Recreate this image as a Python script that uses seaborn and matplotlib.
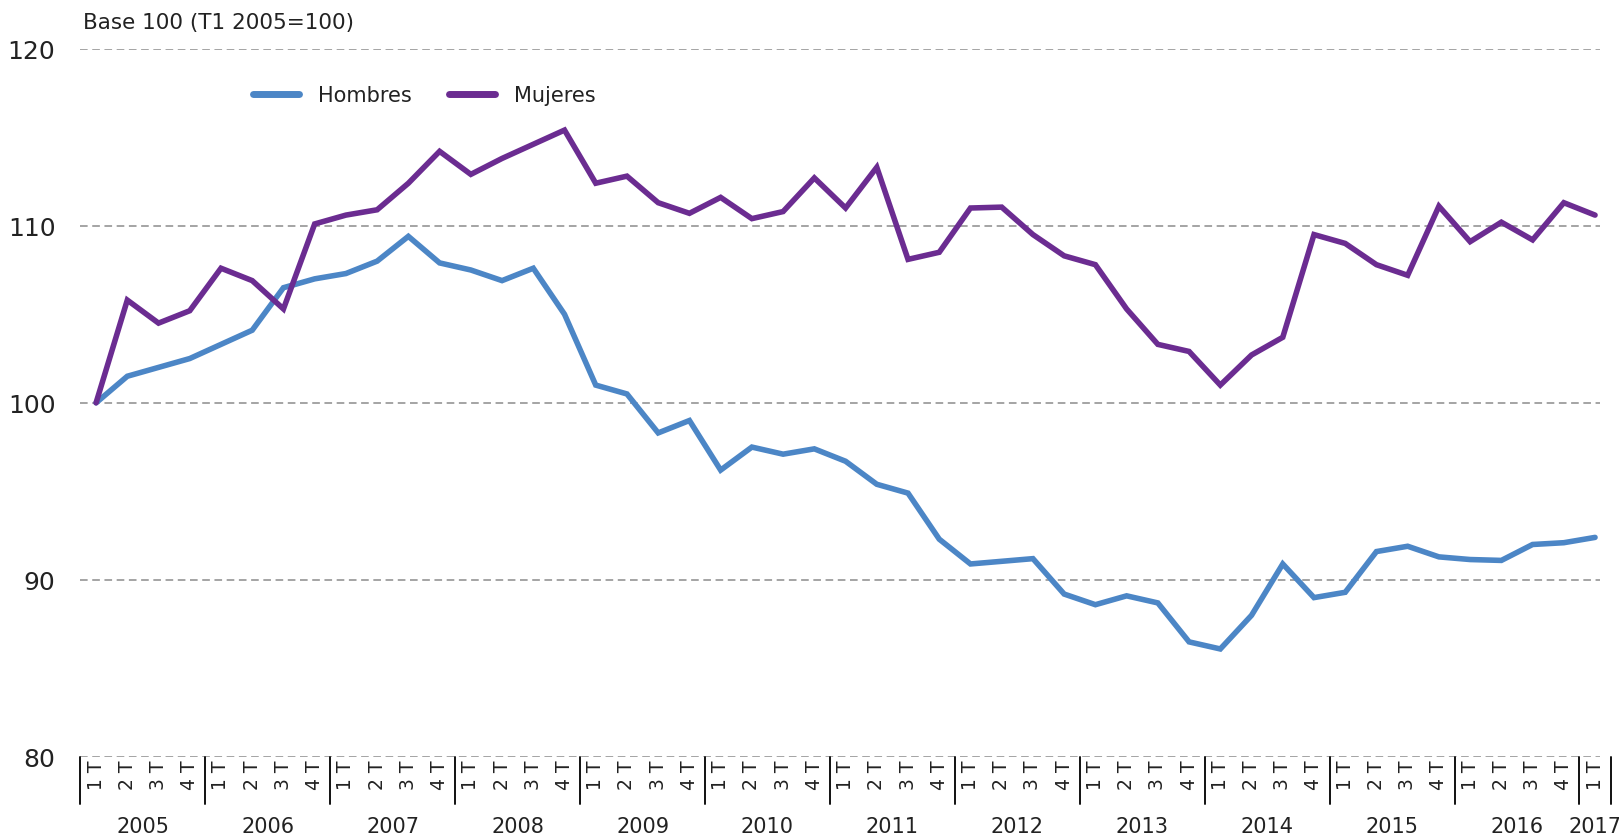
import matplotlib
matplotlib.use("Agg")
import matplotlib.pyplot as plt
import matplotlib.transforms as mtransforms
import numpy as np
import pandas as pd
import seaborn as sns

# ---------------- data ----------------
years = ["2005", "2006", "2007", "2008", "2009", "2010", "2011",
         "2012", "2013", "2014", "2015", "2016", "2017"]
quarters_per_year = ["1 T", "2 T", "3 T", "4 T"]
series_names = ["Hombres", "Mujeres"]

hombres = [100.0, 101.5, 102.0, 102.5, 103.3, 104.1, 106.5, 107.0,
           107.3, 108.0, 109.4, 107.9, 107.5, 106.9, 107.6, 105.0,
           101.0, 100.5, 98.3, 99.0, 96.2, 97.5, 97.1, 97.4,
           96.7, 95.4, 94.9, 92.3, 90.9, 91.05, 91.2, 89.2,
           88.6, 89.1, 88.7, 86.5, 86.1, 88.0, 90.9, 89.0,
           89.3, 91.6, 91.9, 91.3, 91.15, 91.1, 92.0, 92.1,
           92.4]
mujeres = [100.0, 105.8, 104.5, 105.2, 107.6, 106.9, 105.3, 110.1,
           110.6, 110.9, 112.4, 114.2, 112.9, 113.8, 114.6, 115.4,
           112.4, 112.8, 111.3, 110.7, 111.6, 110.4, 110.8, 112.7,
           111.0, 113.3, 108.1, 108.5, 111.0, 111.05, 109.5, 108.3,
           107.8, 105.3, 103.3, 102.9, 101.0, 102.7, 103.7, 109.5,
           109.0, 107.8, 107.2, 111.1, 109.1, 110.2, 109.2, 111.3,
           110.6]
yticks = [80, 90, 100, 110, 120]

# ---------------- build frame ----------------
n = len(hombres)
tick_labels = [quarters_per_year[i % 4] for i in range(n)]
df = pd.DataFrame({
    "t": list(range(n)) * 2,
    "valor": hombres + mujeres,
    "serie": [series_names[0]] * n + [series_names[1]] * n,
})

sns.set_theme(style="white")
plt.rcParams["font.family"] = ["DejaVu Sans"]
text_color = "#222222"

fig = plt.figure(figsize=(16.19, 8.37), dpi=100)
ax = fig.add_axes([0.0497, 0.0944, 0.9384, 0.8463])

palette = {"Hombres": "#4C86C6", "Mujeres": "#6B2C91"}
sns.lineplot(data=df, x="t", y="valor", hue="serie", palette=palette,
             linewidth=4.0, ax=ax, legend=True)
for line in ax.get_lines():
    line.set_solid_capstyle("round")
    line.set_solid_joinstyle("miter")

# axes limits & grid
ax.set_xlim(-0.5, 48.15)
ax.set_ylim(80, 120)
ax.set_yticks(yticks)
ax.set_yticklabels([str(v) for v in yticks], fontsize=18, color=text_color)
for v in yticks:
    ax.axhline(v, color="#8c8c8c", linestyle=(0, (5, 3)), linewidth=1.1, zorder=0)
for s in ax.spines.values():
    s.set_visible(False)
ax.tick_params(axis="y", length=0, pad=18)
ax.set_xlabel("")
ax.set_ylabel("")

# quarter ticks
ax.set_xticks(list(range(n)))
ax.set_xticklabels(tick_labels, rotation=90, fontsize=13.5, color=text_color)
ax.tick_params(axis="x", length=0, pad=2)

# year separators and labels
trans = mtransforms.blended_transform_factory(ax.transData, ax.transAxes)
n_years = len(years)
for k in range(n_years + 1):
    xb = 4 * k - 0.5
    if xb > n - 0.5:
        xb = n - 0.5
    ax.plot([xb, xb], [0, -0.066], transform=trans, color="#111111",
            linewidth=1.4, clip_on=False)
for k, yr in enumerate(years):
    first = 4 * k
    last = min(4 * k + 3, n - 1)
    ax.text((first + last) / 2, -0.097, yr, transform=trans, ha="center",
            va="center", fontsize=15, color=text_color)

# legend
leg = ax.legend(loc="center", bbox_to_anchor=(0.262, 0.885),
                bbox_transform=fig.transFigure, ncol=2, frameon=False,
                fontsize=15, handlelength=2.2, handletextpad=0.9,
                columnspacing=1.8)
for h in leg.get_lines():
    h.set_linewidth(5)
    h.set_solid_capstyle("round")
for t in leg.get_texts():
    t.set_color(text_color)

fig.text(0.051, 0.973, "Base 100 (T1 2005=100)", fontsize=15.5,
         color=text_color, ha="left", va="center")

fig.savefig("out.png", dpi=100, facecolor="white")
